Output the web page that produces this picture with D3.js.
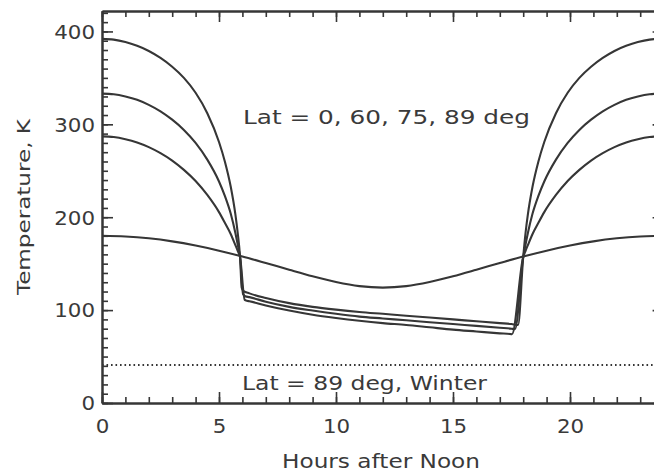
<!DOCTYPE html>
<html>
<head>
<meta charset="utf-8">
<script src="https://cdn.jsdelivr.net/npm/d3@7"></script>
<style>
  html, body { margin: 0; padding: 0; background: #ffffff; }
  svg { display: block; }
  text { font-family: "DejaVu Sans", sans-serif; fill: #3a3a3a; }
</style>
</head>
<body>
<svg id="chart" width="654" height="472"></svg>
<script>
// Surface temperature over one day (hours after local noon) at four latitudes.
const lat0Hours = [0, 0.5, 1, 1.5, 2, 2.5, 3, 3.5, 4, 4.5, 5, 5.25, 5.5, 5.7, 5.8, 5.9,
  5.97, 6.05, 6.3, 7, 8, 9, 10, 11, 12, 13, 14, 15, 16, 17, 17.5, 17.78,
  18.0, 18.1, 18.2, 18.4, 18.65, 18.9, 19.4, 19.9, 20.4, 20.9, 21.4, 21.9, 22.4, 22.9, 23.4, 23.9, 24];
const lat0Temp = [392, 391.2, 388.6, 384.5, 379, 371.5, 362, 350, 334, 312, 281, 260, 233, 203, 183, 157,
  124, 120.5, 118, 113, 107.5, 103.5, 100.5, 98, 96, 94, 92, 90, 88, 86, 85, 84,
  157, 183, 203, 233, 260, 281, 312, 334, 350, 362, 371.5, 379, 384.5, 388.6, 391.2, 392, 392];

const lat60Hours = [0, 0.5, 1, 1.5, 2, 2.5, 3, 3.5, 4, 4.5, 5, 5.25, 5.5, 5.7, 5.8, 5.9,
  6.03, 6.12, 6.3, 7, 8, 9, 10, 11, 12, 13, 14, 15, 16, 17, 17.5, 17.65,
  18.0, 18.1, 18.2, 18.4, 18.65, 18.9, 19.4, 19.9, 20.4, 20.9, 21.4, 21.9, 22.4, 22.9, 23.4, 23.9, 24];
const lat60Temp = [333, 332.3, 330, 326.5, 321, 314, 305, 294, 280, 262, 238.5, 223, 204, 183, 170.5, 157,
  117, 115, 114, 109, 103.5, 99.5, 96, 93, 91, 89, 87, 85, 83, 81, 80, 79.5,
  157, 170.5, 183, 204, 223, 238.5, 262, 280, 294, 305, 314, 321, 326.5, 330, 332.3, 333, 333];

const lat75Hours = [0, 0.5, 1, 1.5, 2, 2.5, 3, 3.5, 4, 4.5, 5, 5.25, 5.5, 5.7, 5.8, 5.9,
  6.1, 6.2, 6.3, 7, 8, 9, 10, 11, 12, 13, 14, 15, 16, 17, 17.45, 17.52,
  18.0, 18.1, 18.2, 18.4, 18.65, 18.9, 19.4, 19.9, 20.4, 20.9, 21.4, 21.9, 22.4, 22.9, 23.4, 23.9, 24];
const lat75Temp = [287, 286.3, 284, 280.5, 275.5, 269, 261, 251, 239, 224, 205.5, 194, 182, 170, 163.8, 157,
  111, 110, 109.5, 105, 99.5, 95, 91.5, 88.5, 86, 84, 81.5, 79, 77, 75, 74.2, 74,
  157, 163.8, 170, 182, 194, 205.5, 224, 239, 251, 261, 269, 275.5, 280.5, 284, 286.3, 287, 287];

const lat89Hours = [0, 1, 2, 3, 4, 5, 6, 7, 8, 9, 10, 11, 12, 13, 14, 15, 16, 17, 18, 19, 20, 21, 22, 23, 24];
const lat89Temp = [180, 179.3, 177.3, 174, 169.5, 164, 157.7, 150.7, 143.5, 136.5, 130.3, 125.8, 124.2,
  125.8, 130.3, 136.5, 143.5, 150.7, 157.7, 164, 169.5, 174, 177.3, 179.3, 180];

// Polar winter: constant temperature all day
const winterHours = [0, 24];
const winterTemp = [41, 41];

const xMajorTicks = [0, 5, 10, 15, 20];
const yMajorTicks = [0, 100, 200, 300, 400];
const summerLabel = "Lat = 0, 60, 75, 89 deg";
const winterLabel = "Lat = 89 deg, Winter";
const xTitle = "Hours after Noon";
const yTitle = "Temperature, K";

const svg = d3.select("#chart");
const plotLeft = 102, plotRight = 663.6, plotTop = 11, plotBottom = 403;
const ink = "#363636";
const textInk = "#3a3a3a";

const x = d3.scaleLinear().domain([0, 24]).range([plotLeft, plotRight]);
const y = d3.scaleLinear().domain([0, 422]).range([plotBottom, plotTop]);

const xMinor = d3.range(0, 25, 1);
const yMinor = d3.range(0, 421, 10);

// Frame with inward-pointing ticks on all four sides
function styleAxis(g) {
  g.selectAll("path.domain").attr("stroke", ink).attr("stroke-width", 2);
  g.selectAll(".tick line").attr("stroke", ink).attr("stroke-width", 1.6);
}
function addAxis(axisFn, scale, ticks, size, tx, ty, labels) {
  const a = axisFn(scale).tickValues(ticks).tickSize(-size).tickSizeOuter(0);
  if (!labels) a.tickFormat("");
  const g = svg.append("g").attr("transform", `translate(${tx},${ty})`).call(a);
  styleAxis(g);
  return g;
}
addAxis(d3.axisBottom, x, xMinor, 6, 0, plotBottom, false);
addAxis(d3.axisTop, x, xMinor, 6, 0, plotTop, false);
addAxis(d3.axisLeft, y, yMinor, 6, plotLeft, 0, false);
addAxis(d3.axisRight, y, yMinor, 6, plotRight, 0, false);
addAxis(d3.axisTop, x, xMajorTicks, 11, 0, plotTop, false);
addAxis(d3.axisRight, y, yMajorTicks, 11, plotRight, 0, false);

// Tick labels: digits drawn a little wider than the default face
const digitWidth = 13.6;
const gx = addAxis(d3.axisBottom, x, xMajorTicks, 11, 0, plotBottom, true);
gx.selectAll(".tick text")
  .attr("y", 17).attr("dy", "0.71em")
  .style("font-size", "19px")
  .attr("textLength", d => String(d).length * digitWidth)
  .attr("lengthAdjust", "spacingAndGlyphs")
  .attr("fill", textInk);

const gy = addAxis(d3.axisLeft, y, yMajorTicks, 11, plotLeft, 0, true);
gy.selectAll(".tick text")
  .attr("x", -7).attr("dy", "0.36em")
  .style("font-size", "19px")
  .attr("textLength", d => String(d).length * digitWidth)
  .attr("lengthAdjust", "spacingAndGlyphs")
  .attr("fill", textInk);

// Temperature curves
const line = d3.line()
  .x(d => x(d[0]))
  .y(d => y(d[1]))
  .curve(d3.curveMonotoneX);

const curves = [
  [lat0Hours, lat0Temp],
  [lat60Hours, lat60Temp],
  [lat75Hours, lat75Temp],
  [lat89Hours, lat89Temp]
];

svg.append("clipPath").attr("id", "plot-clip")
  .append("rect").attr("x", plotLeft).attr("y", plotTop)
  .attr("width", plotRight - plotLeft).attr("height", plotBottom - plotTop);

const plot = svg.append("g").attr("clip-path", "url(#plot-clip)");

plot.selectAll("path.curve")
  .data(curves)
  .join("path")
  .attr("class", "curve")
  .attr("d", c => line(d3.zip(c[0], c[1])))
  .attr("fill", "none")
  .attr("stroke", ink)
  .attr("stroke-width", 2.1)
  .attr("stroke-linejoin", "round");

plot.append("path")
  .attr("d", d3.line().x(d => x(d[0])).y(d => y(d[1]))(d3.zip(winterHours, winterTemp)))
  .attr("fill", "none")
  .attr("stroke", ink)
  .attr("stroke-width", 2)
  .attr("stroke-dasharray", "1.6,2.9");

// Annotations
svg.append("text")
  .attr("x", 243).attr("y", 124)
  .attr("textLength", 287).attr("lengthAdjust", "spacingAndGlyphs")
  .style("font-size", "20px")
  .text(summerLabel);

svg.append("text")
  .attr("x", 242).attr("y", 390)
  .attr("textLength", 245).attr("lengthAdjust", "spacingAndGlyphs")
  .style("font-size", "20px")
  .text(winterLabel);

// Axis titles
svg.append("text")
  .attr("x", 381).attr("y", 468)
  .attr("text-anchor", "middle")
  .attr("textLength", 198).attr("lengthAdjust", "spacingAndGlyphs")
  .style("font-size", "19px")
  .text(xTitle);

svg.append("text")
  .attr("transform", "translate(30,207) rotate(-90)")
  .attr("text-anchor", "middle")
  .attr("textLength", 176).attr("lengthAdjust", "spacingAndGlyphs")
  .style("font-size", "18px")
  .text(yTitle);
</script>
</body>
</html>
